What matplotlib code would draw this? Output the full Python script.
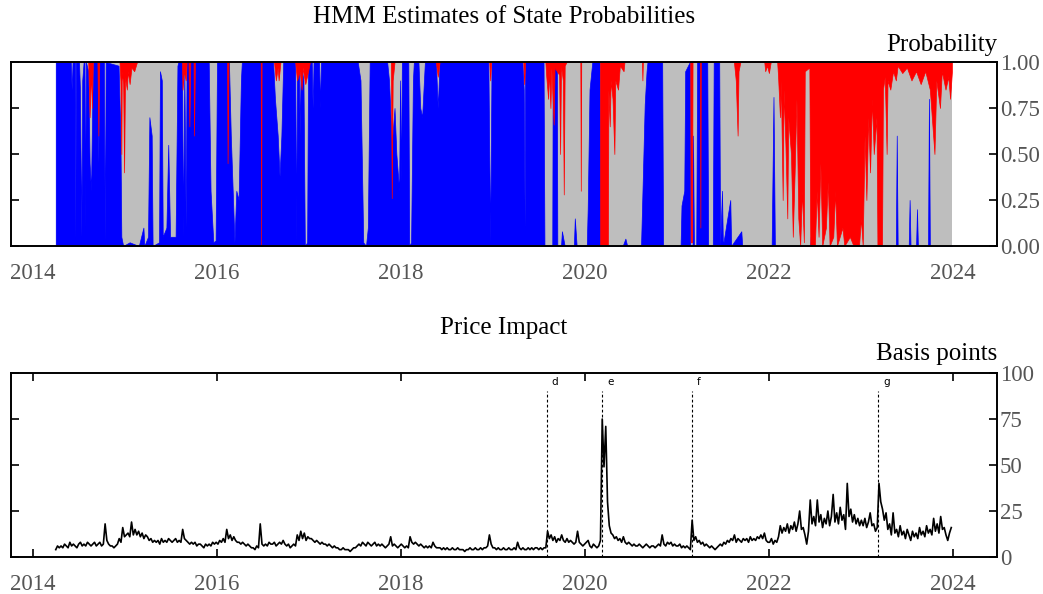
import numpy as np
import matplotlib
matplotlib.use("Agg")
import matplotlib.pyplot as plt

# ---------------------------------------------------------------- data
# state 1 (blue, bottom) : probability breakpoints (decimal years)
blue_t = [
    2014.247, 2014.41, 2014.42, 2014.43, 2014.455, 2014.46, 2014.465, 2014.50,
    2014.51, 2014.525, 2014.535, 2014.55, 2014.56, 2014.565, 2014.575, 2014.60,
    2014.615, 2014.63, 2014.645, 2014.655, 2014.70, 2014.71, 2014.72, 2014.77,
    2014.78, 2014.79, 2014.93, 2014.95, 2014.96, 2014.98, 2015.05, 2015.15,
    2015.20, 2015.21, 2015.25, 2015.265, 2015.29, 2015.30, 2015.37, 2015.38,
    2015.40, 2015.41, 2015.45, 2015.47, 2015.49, 2015.55, 2015.57, 2015.58,
    2015.62, 2015.63, 2015.645, 2015.66, 2015.67, 2015.91, 2015.93, 2015.96,
    2015.985, 2016.0, 2016.13, 2016.15, 2016.19, 2016.21, 2016.235, 2016.26,
    2016.27, 2016.61, 2016.63, 2016.66, 2016.68, 2016.70, 2016.72, 2016.85,
    2016.86, 2016.87, 2016.89, 2016.90, 2016.91, 2016.94, 2016.955, 2016.98,
    2016.99, 2017.03, 2017.04, 2017.05, 2017.11, 2017.12, 2017.13, 2017.53,
    2017.56, 2017.59, 2017.62, 2017.64, 2017.66, 2017.85, 2017.87, 2017.90,
    2017.93, 2017.95, 2017.98, 2017.99, 2018.0, 2018.01, 2018.08, 2018.09,
    2018.11, 2018.13, 2018.14, 2018.19, 2018.21, 2018.23, 2018.26, 2018.38,
    2018.40, 2018.42, 2018.95, 2018.97, 2018.985, 2019.32, 2019.335, 2019.345,
    2019.35, 2019.55, 2019.56, 2019.645, 2019.65, 2019.695, 2019.70, 2019.74,
    2019.75, 2019.78, 2019.88, 2019.89, 2019.91, 2020.02, 2020.03, 2020.05,
    2020.07, 2020.08, 2020.16, 2020.165, 2020.41, 2020.44, 2020.46, 2020.61,
    2020.63, 2020.65, 2020.67, 2020.68, 2020.84, 2020.85, 2021.04, 2021.05,
    2021.08, 2021.09, 2021.14, 2021.145, 2021.17, 2021.175, 2021.185, 2021.21,
    2021.22, 2021.33, 2021.34, 2021.39, 2021.40, 2021.46, 2021.47, 2021.49,
    2021.50, 2021.58, 2021.59, 2021.70, 2021.71, 2022.03, 2022.05, 2022.065,
    2022.45, 2022.455, 2022.46, 2023.38, 2023.39, 2023.40, 2023.52, 2023.53,
    2023.54, 2023.60, 2023.61, 2023.62, 2023.73, 2023.74, 2023.75, 2023.99,
]
blue_p = [
    1.0, 1.0, 0.85, 1.0, 1.0, 0.03, 1.0, 1.0,
    0.85, 0.05, 0.9, 1.0, 1.0, 0.1, 1.0, 0.95,
    0.45, 0.3, 0.8, 1.0, 1.0, 0.45, 1.0, 1.0,
    0.02, 1.0, 0.98, 0.6, 0.05, 0.0, 0.02, 0.0,
    0.1, 0.0, 0.05, 0.7, 0.6, 0.0, 0.02, 0.95,
    0.9, 0.05, 0.1, 0.55, 0.05, 0.05, 0.98, 1.0,
    1.0, 0.05, 0.95, 0.1, 1.0, 1.0, 0.3, 0.02,
    0.03, 1.0, 1.0, 0.6, 0.02, 0.3, 0.25, 0.9,
    1.0, 1.0, 0.8, 0.6, 0.38, 0.6, 1.0, 1.0,
    0.02, 1.0, 1.0, 0.6, 1.0, 0.9, 0.0, 0.02,
    1.0, 1.0, 0.75, 1.0, 1.0, 0.75, 1.0, 1.0,
    0.9, 0.02, 0.0, 0.1, 1.0, 1.0, 0.9, 0.55,
    0.75, 0.5, 0.3, 0.9, 0.35, 1.0, 1.0, 0.0,
    0.02, 0.9, 1.0, 1.0, 0.75, 0.7, 1.0, 1.0,
    0.75, 1.0, 1.0, 0.02, 1.0, 1.0, 0.85, 0.1,
    1.0, 1.0, 0.0, 0.0, 1.0, 1.0, 0.0, 0.0,
    0.08, 0.0, 0.0, 0.15, 0.0, 0.0, 0.2, 0.85,
    0.95, 1.0, 1.0, 0.0, 0.0, 0.04, 0.0, 0.0,
    0.38, 0.77, 0.95, 1.0, 1.0, 0.0, 0.0, 0.22,
    0.3, 0.95, 1.0, 0.0, 0.0, 0.6, 0.0, 0.0,
    1.0, 1.0, 0.0, 0.0, 1.0, 1.0, 0.0, 0.3,
    0.0, 0.25, 0.0, 0.08, 0.0, 0.0, 0.81, 0.0,
    0.0, 0.05, 0.0, 0.0, 0.6, 0.0, 0.0, 0.25,
    0.0, 0.0, 0.2, 0.0, 0.0, 0.8, 0.0, 0.0,
]

# state 3 (red, top) : probability breakpoints
red_t = [
    2014.247, 2014.60, 2014.615, 2014.63, 2014.64, 2014.65, 2014.70, 2014.71,
    2014.72, 2014.94, 2014.95, 2014.96, 2014.965, 2014.98, 2014.99, 2015.0,
    2015.02, 2015.03, 2015.05, 2015.07, 2015.10, 2015.13, 2015.62, 2015.625,
    2015.64, 2015.66, 2015.67, 2015.69, 2015.70, 2015.71, 2015.745, 2015.75,
    2015.76, 2016.11, 2016.115, 2016.125, 2016.475, 2016.48, 2016.485, 2016.62,
    2016.64, 2016.66, 2016.67, 2016.69, 2016.85, 2016.87, 2016.90, 2016.92,
    2016.93, 2016.96, 2016.99, 2017.01, 2017.89, 2017.90, 2017.91, 2017.93,
    2018.38, 2018.40, 2018.42, 2018.96, 2018.97, 2018.98, 2019.33, 2019.34,
    2019.35, 2019.57, 2019.58, 2019.60, 2019.61, 2019.625, 2019.635, 2019.66,
    2019.67, 2019.72, 2019.73, 2019.74, 2019.76, 2019.77, 2019.78, 2019.80,
    2019.95, 2019.955, 2019.96, 2020.165, 2020.166, 2020.25, 2020.255, 2020.27,
    2020.28, 2020.30, 2020.32, 2020.33, 2020.36, 2020.38, 2020.42, 2020.43,
    2020.62, 2020.625, 2020.63, 2021.145, 2021.15, 2021.165, 2021.17, 2021.25,
    2021.255, 2021.26, 2021.62, 2021.64, 2021.66, 2021.67, 2021.69, 2021.95,
    2021.96, 2021.98, 2022.0, 2022.02, 2022.09, 2022.10, 2022.12, 2022.13,
    2022.15, 2022.16, 2022.18, 2022.20, 2022.21, 2022.24, 2022.26, 2022.28,
    2022.30, 2022.32, 2022.34, 2022.36, 2022.38, 2022.39, 2022.44, 2022.45,
    2022.50, 2022.52, 2022.54, 2022.56, 2022.58, 2022.62, 2022.64, 2022.66,
    2022.70, 2022.72, 2022.74, 2022.80, 2022.82, 2022.88, 2022.92, 2022.98,
    2023.0, 2023.02, 2023.04, 2023.06, 2023.08, 2023.10, 2023.12, 2023.14,
    2023.17, 2023.18, 2023.23, 2023.24, 2023.26, 2023.28, 2023.29, 2023.32,
    2023.35, 2023.38, 2023.40, 2023.45, 2023.50, 2023.55, 2023.60, 2023.65,
    2023.70, 2023.75, 2023.80, 2023.82, 2023.86, 2023.88, 2023.92, 2023.95,
    2023.97, 2023.99,
]
red_p = [
    0.0, 0.0, 0.3, 0.05, 0.25, 0.0, 0.0, 0.4,
    0.0, 0.0, 0.1, 0.5, 0.05, 0.12, 0.6, 0.08,
    0.15, 0.05, 0.12, 0.03, 0.05, 0.0, 0.0, 0.15,
    0.05, 0.1, 0.0, 0.0, 0.35, 0.0, 0.0, 0.4,
    0.0, 0.0, 0.55, 0.0, 0.0, 1.0, 0.0, 0.0,
    0.1, 0.03, 0.1, 0.0, 0.0, 0.1, 0.05, 0.15,
    0.03, 0.12, 0.05, 0.0, 0.0, 0.74, 0.1, 0.0,
    0.0, 0.08, 0.0, 0.0, 0.1, 0.0, 0.0, 0.12,
    0.0, 0.0, 0.08, 0.2, 0.05, 0.25, 0.03, 0.34,
    0.03, 0.07, 0.5, 0.02, 0.1, 0.72, 0.02, 0.0,
    0.0, 0.7, 0.0, 0.0, 1.0, 1.0, 0.15, 0.35,
    0.1, 0.2, 0.5, 0.1, 0.15, 0.02, 0.05, 0.0,
    0.0, 0.1, 0.0, 0.0, 0.98, 0.98, 0.0, 0.0,
    0.9, 0.0, 0.0, 0.1, 0.4, 0.05, 0.0, 0.0,
    0.05, 0.02, 0.06, 0.0, 0.0, 0.08, 0.3, 0.1,
    0.75, 0.15, 0.45, 0.85, 0.3, 0.5, 0.95, 0.6,
    0.2, 0.85, 1.0, 0.7, 0.98, 0.05, 0.03, 1.0,
    1.0, 0.7, 0.95, 0.55, 1.0, 0.9, 0.65, 1.0,
    0.95, 0.7, 1.0, 0.9, 1.0, 0.95, 1.0, 1.0,
    0.85, 1.0, 0.4, 0.75, 0.3, 0.6, 0.2, 0.5,
    0.3, 1.0, 1.0, 0.15, 0.08, 0.5, 0.1, 0.15,
    0.05, 0.1, 0.02, 0.06, 0.03, 0.1, 0.05, 0.12,
    0.05, 0.15, 0.5, 0.1, 0.25, 0.05, 0.15, 0.08,
    0.2, 0.05,
]
state_span = [2014.247, 2023.99]

# price impact, weekly, basis points (first week 2014-03-28)
impact_start = 2014.247
impact_2014 = [4, 6, 5, 6, 5, 7, 6, 5, 8, 6, 7, 6, 5, 7, 8, 6, 7, 6, 8, 7,
               6, 7, 8, 6, 7, 8, 6, 7, 18, 9, 7, 6, 6, 5, 6, 7, 10, 8, 16, 11,
               12]
impact_2015 = [13, 11, 19, 12, 15, 12, 14, 11, 13, 10, 12, 11, 9, 10, 8, 9,
               8, 9, 7, 10, 8, 9, 8, 10, 9, 8, 9, 10, 8, 9, 8, 15, 10, 9, 8,
               7, 8, 7, 8, 6, 7, 7, 6, 5, 7, 6, 7, 6, 8, 7, 8, 7]
impact_2016 = [9, 8, 10, 8, 15, 10, 12, 9, 11, 9, 8, 8, 7, 8, 7, 6, 7, 6, 5,
               5, 4, 6, 5, 18, 7, 6, 7, 6, 8, 7, 7, 8, 6, 7, 8, 7, 9, 7, 6,
               7, 5, 6, 7, 6, 12, 9, 14, 10, 13, 9, 11, 10]
impact_2017 = [10, 9, 8, 9, 8, 7, 8, 7, 7, 6, 7, 6, 5, 6, 5, 5, 4, 4, 5, 4,
               4, 4, 3, 4, 5, 5, 6, 7, 6, 8, 7, 6, 8, 7, 6, 7, 8, 6, 7, 6,
               7, 6, 5, 6, 7, 11, 6, 7, 6, 5, 6, 7]
impact_2018 = [6, 5, 6, 5, 11, 8, 7, 8, 7, 6, 7, 6, 5, 6, 5, 6, 5, 8, 6, 5,
               5, 5, 4, 5, 4, 5, 4, 4, 5, 4, 4, 5, 4, 4, 4, 3, 4, 4, 5, 4,
               4, 5, 4, 4, 5, 4, 5, 5, 6, 12, 7, 5]
impact_2019 = [5, 4, 5, 4, 4, 5, 4, 4, 5, 4, 4, 5, 4, 8, 5, 4, 5, 4, 4, 5,
               4, 5, 4, 5, 5, 4, 5, 4, 5, 5, 14, 10, 12, 9, 11, 8, 10, 9,
               12, 9, 8, 10, 8, 9, 8, 7, 8, 14, 8, 7, 6, 7]
impact_2020 = [8, 9, 6, 5, 7, 6, 5, 6, 9, 75, 49, 71, 30, 17, 13, 12, 10,
               11, 9, 10, 8, 11, 8, 7, 8, 7, 6, 7, 6, 6, 7, 6, 5, 6, 7, 6,
               5, 6, 6, 5, 6, 7, 6, 12, 7, 6, 8, 7, 8, 6, 7, 6]
impact_2021 = [6, 7, 5, 6, 5, 6, 5, 4, 20, 9, 11, 8, 9, 7, 8, 6, 7, 6, 5, 6,
               5, 4, 5, 6, 7, 6, 8, 7, 9, 8, 10, 9, 12, 8, 10, 9, 8, 10, 9,
               10, 8, 11, 9, 10, 9, 11, 10, 12, 10, 13, 9, 8]
impact_2022 = [8, 10, 7, 9, 8, 11, 17, 13, 16, 14, 18, 13, 17, 15, 19, 14,
               18, 25, 15, 16, 12, 7, 14, 31, 18, 22, 17, 31, 19, 23, 16, 21,
               18, 25, 17, 22, 34, 19, 24, 18, 27, 20, 23, 15, 40, 22, 26, 19,
               23, 18, 21, 17]
impact_2023 = [20, 17, 21, 16, 19, 24, 17, 18, 14, 16, 40, 30, 26, 20, 24,
               15, 18, 12, 24, 13, 15, 11, 17, 12, 14, 10, 15, 12, 9, 14, 11,
               13, 10, 16, 12, 14, 11, 17, 13, 15, 12, 21, 14, 18, 13, 22, 15,
               16, 12, 9, 13, 16]

event_labels = ["d", "e", "f", "g"]
event_years = [2019.587, 2020.19, 2021.162, 2023.19]

year_ticks = [2014, 2016, 2018, 2020, 2022, 2024]
prob_ticks = [0.0, 0.25, 0.5, 0.75, 1.0]
bp_ticks = [0, 25, 50, 75, 100]

# ---------------------------------------------------------------- style
BLUE, GREY, RED = "#0000FF", "#BEBEBE", "#FF0000"
TICK_INK = "#555555"
plt.rcParams["font.family"] = ["Liberation Serif", "DejaVu Serif"]
FS = 16.5     # tick labels
FS_T = 18     # titles and unit labels

fig = plt.figure(figsize=(10.43, 5.94), dpi=100)
ax1 = fig.add_axes([0.0105, 0.5859, 0.9454, 0.3097])
ax2 = fig.add_axes([0.0105, 0.0623, 0.9454, 0.3097])

for ax in (ax1, ax2):
    ax.set_xlim(2013.76, 2024.48)
    ax.set_xticks(year_ticks)
    ax.set_xticklabels([str(y) for y in year_ticks])
    for s in ax.spines.values():
        s.set_linewidth(1.4)
    ax.tick_params(axis="y", direction="in", length=5.8, width=1.2,
                   left=True, right=True, labelleft=False, labelright=True,
                   labelsize=FS, labelcolor=TICK_INK, pad=2)

# ---------------------------------------------------------- top panel
ax1.fill_between(state_span, 0, 1, color=GREY, lw=0)
ax1.fill_between(blue_t, 0, blue_p, color=BLUE, lw=0.5, edgecolor=BLUE)
ax1.fill_between(red_t, 1 - np.array(red_p), 1, color=RED, lw=0.5,
                 edgecolor=RED)
ax1.set_ylim(0, 1)
ax1.set_yticks(prob_ticks)
ax1.set_yticklabels([f"{v:.2f}" for v in prob_ticks])
ax1.tick_params(axis="x", length=0, labelsize=FS, labelcolor=TICK_INK,
                pad=12)
ax1.text(0.5, 1.21, "HMM Estimates of State Probabilities",
         transform=ax1.transAxes, ha="center", va="baseline", fontsize=FS_T)
ax1.text(1.0, 1.06, "Probability", transform=ax1.transAxes,
         ha="right", va="baseline", fontsize=FS_T)

# ------------------------------------------------------- bottom panel
impact = (impact_2014 + impact_2015 + impact_2016 + impact_2017 +
          impact_2018 + impact_2019 + impact_2020 + impact_2021 +
          impact_2022 + impact_2023)
impact_t = impact_start + np.arange(len(impact)) * 7 / 365.25
ax2.plot(impact_t, impact, color="black", lw=1.2)
ax2.vlines(event_years, 0, 90, colors="black", lw=0.8,
           linestyles=(0, (2.5, 2)))
for lab, t in zip(event_labels, event_years):
    ax2.text(t + 0.05, 95, lab, family="DejaVu Sans", fontsize=7.5,
             ha="left", va="center")
ax2.set_ylim(0, 100)
ax2.set_yticks(bp_ticks)
ax2.set_yticklabels([str(v) for v in bp_ticks])
ax2.tick_params(axis="x", direction="in", length=5.8, width=1.2,
                top=True, bottom=True, labelsize=FS, labelcolor=TICK_INK,
                pad=12)
ax2.text(0.5, 1.21, "Price Impact", transform=ax2.transAxes,
         ha="center", va="baseline", fontsize=FS_T)
ax2.text(1.0, 1.07, "Basis points", transform=ax2.transAxes,
         ha="right", va="baseline", fontsize=FS_T)

fig.savefig("out.png", dpi=100)
